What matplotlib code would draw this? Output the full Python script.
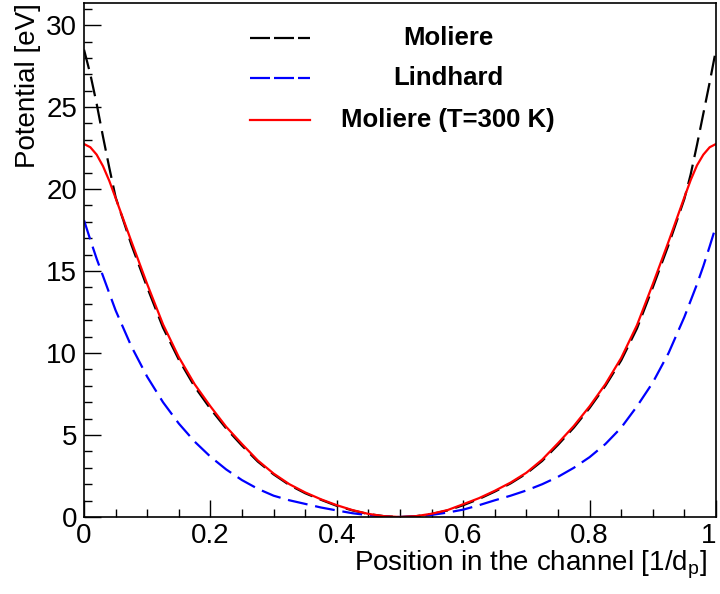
"""
Planar channel potential: Moliere, Lindhard and thermally averaged Moliere.
"""
import matplotlib
matplotlib.use("Agg")
import matplotlib.pyplot as plt
from matplotlib.ticker import MultipleLocator

plt.rcParams["font.family"] = ["Liberation Sans", "DejaVu Sans"]
plt.rcParams["mathtext.default"] = "regular"

# position in the channel [1/d_p]
position = [0.0, 0.01, 0.02, 0.03, 0.04, 0.05, 0.075, 0.1, 0.125, 0.15,
            0.175, 0.2, 0.225, 0.25, 0.275, 0.3, 0.325, 0.35, 0.375, 0.4,
            0.425, 0.45, 0.475, 0.5, 0.525, 0.55, 0.575, 0.6, 0.625, 0.65,
            0.675, 0.7, 0.725, 0.75, 0.775, 0.8, 0.825, 0.85, 0.875, 0.9,
            0.925, 0.95, 0.96, 0.97, 0.98, 0.99, 1.0]

# potentials [eV]
moliere = [28.5, 27.0, 25.2, 23.2, 21.3, 19.5, 16.6, 14.0, 11.55, 9.6,
           7.95, 6.6, 5.4, 4.35, 3.38, 2.6, 1.95, 1.45, 1.05, 0.68,
           0.4, 0.18, 0.05, 0.0, 0.05, 0.18, 0.4, 0.72, 1.1, 1.55,
           2.05, 2.65, 3.42, 4.4, 5.45, 6.65, 8.0, 9.55, 11.5, 14.0,
           16.6, 19.4, 20.9, 22.7, 24.6, 26.5, 28.5]

lindhard = [18.1, 16.9, 15.75, 14.7, 13.65, 12.6, 10.4, 8.55, 7.0, 5.7,
            4.6, 3.68, 2.9, 2.25, 1.72, 1.3, 1.02, 0.8, 0.58, 0.4,
            0.23, 0.11, 0.03, 0.0, 0.03, 0.13, 0.27, 0.45, 0.72, 1.02,
            1.3, 1.62, 2.0, 2.45, 3.0, 3.65, 4.45, 5.45, 6.75, 8.2,
            10.0, 12.2, 13.2, 14.2, 15.3, 16.5, 17.75]

moliere_T = [22.75, 22.55, 22.1, 21.4, 20.5, 19.45, 16.8, 14.2, 11.75, 9.75,
             8.1, 6.75, 5.5, 4.45, 3.45, 2.65, 2.0, 1.5, 1.08, 0.72,
             0.42, 0.19, 0.05, 0.0, 0.05, 0.2, 0.42, 0.78, 1.15, 1.6,
             2.1, 2.7, 3.5, 4.5, 5.55, 6.75, 8.1, 9.7, 11.7, 14.2,
             16.8, 19.5, 20.55, 21.45, 22.1, 22.55, 22.75]

labels = ["Moliere", "Lindhard", "Moliere (T=300 K)"]
colors = ["black", "#0000ff", "#ff0000"]
dashed = [True, True, False]


def tick_fmt(v, pos):
    v = round(v, 3)
    if v in (0, 1):
        return str(int(v))
    return f"{v:.1f}"


fig = plt.figure(figsize=(7.2, 5.94), dpi=100)
ax = fig.add_axes([0.1167, 0.1296, 0.8777, 0.8654])

series = [moliere, lindhard, moliere_T]
for values, color, dash in zip(series, colors, dashed):
    line, = ax.plot(position, values, color=color, lw=1.6)
    if dash:
        line.set_dashes((9, 3.5))

ax.set_xlim(0, 1)
ax.set_ylim(0, 31.35)

ax.xaxis.set_major_locator(MultipleLocator(0.2))
ax.xaxis.set_minor_locator(MultipleLocator(0.05))
ax.yaxis.set_major_locator(MultipleLocator(5))
ax.yaxis.set_minor_locator(MultipleLocator(1))
ax.xaxis.set_major_formatter(tick_fmt)

ax.tick_params(which="both", direction="in", top=False, right=False,
               labelsize=20, width=1, color="black")
ax.tick_params(which="major", length=12)
ax.tick_params(which="minor", length=6)
ax.tick_params(axis="x", pad=4)
ax.tick_params(axis="y", pad=5)
for s in ax.spines.values():
    s.set_linewidth(1.2)

ax.set_xlabel("Position in the channel [1/d$_p$]", fontsize=20, ha="right")
ax.xaxis.set_label_coords(0.985, -0.062)
ax.set_ylabel("Potential [eV]", fontsize=20, loc="top", labelpad=4)

# the last x tick label sits against the frame edge, as in ROOT
fig.canvas.draw()
for lbl in ax.get_xticklabels():
    if lbl.get_text() == "1":
        lbl.set_horizontalalignment("right")

# legend drawn ROOT-style: sample line on the left, centred bold text
rows = [0.932, 0.854, 0.772]
for lab, color, dash, yy in zip(labels, colors, dashed, rows):
    key, = ax.plot([0.263, 0.358], [yy, yy], transform=ax.transAxes,
                   color=color, lw=1.6)
    if dash:
        key.set_dashes((9, 1.8))
    ax.text(0.576, yy, lab, transform=ax.transAxes, ha="center", va="center",
            fontsize=18.5, fontweight="bold")

fig.savefig("out.png", dpi=100)
